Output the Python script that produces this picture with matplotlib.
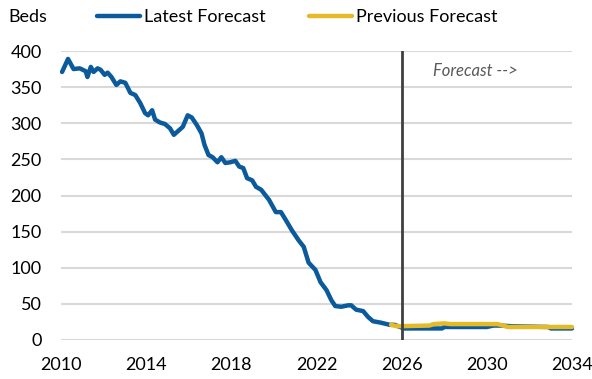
import matplotlib.pyplot as plt

# Hospital beds: outturn plus latest forecast, and the previous forecast
latest_years = [
    2010.05, 2010.33, 2010.59, 2010.88, 2011.16, 2011.24, 2011.40, 2011.53,
    2011.72, 2011.86, 2012.05, 2012.19, 2012.37, 2012.60, 2012.79, 2013.02,
    2013.26, 2013.49, 2013.72, 2013.95, 2014.09, 2014.28, 2014.42, 2014.65,
    2014.88, 2015.12, 2015.30, 2015.49, 2015.72, 2015.95, 2016.14, 2016.37,
    2016.60, 2016.74, 2016.93, 2017.12, 2017.35, 2017.53, 2017.72, 2017.95,
    2018.19, 2018.37, 2018.56, 2018.74, 2018.98, 2019.16, 2019.40, 2019.77,
    2020.09, 2020.33, 2020.56, 2020.84, 2021.16, 2021.40, 2021.63, 2021.95,
    2022.19, 2022.47, 2022.70, 2022.88, 2023.16, 2023.49, 2023.63, 2023.86,
    2024.19, 2024.42, 2024.65, 2025.02, 2025.44, 2025.67, 2026.10, 2027.90,
    2028.00, 2030.00, 2030.30, 2030.60, 2031.20, 2032.90, 2033.00, 2034.00,
]
latest_beds = [
    371, 389, 375, 376, 372, 364, 378, 371,
    376, 374, 367, 370, 364, 353, 358, 356,
    342, 339, 328, 314, 311, 318, 305, 301,
    299, 293, 284, 289, 295, 311, 308, 298,
    286, 270, 256, 253, 246, 253, 245, 246,
    248, 240, 238, 224, 221, 212, 208, 194,
    177, 177, 166, 152, 138, 129, 107, 97,
    80, 69, 55, 47, 46, 48, 48, 42,
    40, 32, 26, 24, 21, 21, 16, 16,
    18, 18, 20, 20, 19, 18, 16, 16,
]

previous_years = [2025.5, 2025.8, 2027.3, 2027.5, 2028.0, 2028.3, 2030.5, 2031.0, 2034.0]
previous_beds = [21, 19, 20, 22, 23, 22, 22, 18, 18]

forecast_start = 2026
x_ticks = [2010, 2014, 2018, 2022, 2026, 2030, 2034]
y_ticks = [0, 50, 100, 150, 200, 250, 300, 350, 400]

BLUE = '#0b5a9c'
YELLOW = '#e4ba27'

plt.rcParams['font.family'] = ['Lato', 'DejaVu Sans']

fig = plt.figure(figsize=(5.92, 3.79), dpi=100)
ax = fig.add_axes([61 / 592, 39 / 379, 511 / 592, 289 / 379])

ax.plot(latest_years, latest_beds, color=BLUE, lw=3.2, solid_capstyle='round',
        solid_joinstyle='round', label='Latest Forecast', zorder=3, clip_on=False)
ax.plot(previous_years, previous_beds, color=YELLOW, lw=3.2, solid_capstyle='round',
        solid_joinstyle='round', label='Previous Forecast', zorder=4, clip_on=False)

ax.axvline(forecast_start, color='#404040', lw=2, zorder=5)
ax.text(forecast_start + 1.45, 372, 'Forecast -->', style='italic', color='#595959',
        fontsize=12, va='center')

ax.set_xlim(2010, 2034)
ax.set_ylim(0, 400)
ax.set_xticks(x_ticks)
ax.set_yticks(y_ticks)
ax.grid(axis='y', color='#d9d9d9', lw=1.5, zorder=0)
ax.set_axisbelow(True)
for s in ax.spines.values():
    s.set_visible(False)
ax.tick_params(length=0, labelsize=13, colors='#000000')
ax.tick_params(axis='y', pad=14)
ax.tick_params(axis='x', pad=12)

fig.text(8 / 592, 1 - 17 / 379, 'Beds', fontsize=13, va='center', ha='left')

fig.legend(loc='center', bbox_to_anchor=(297 / 592, 1 - 17 / 379), ncol=2,
           frameon=False, fontsize=13, handlelength=2.4, handletextpad=0.2,
           columnspacing=2.4)

fig.savefig('out.png', dpi=100)
